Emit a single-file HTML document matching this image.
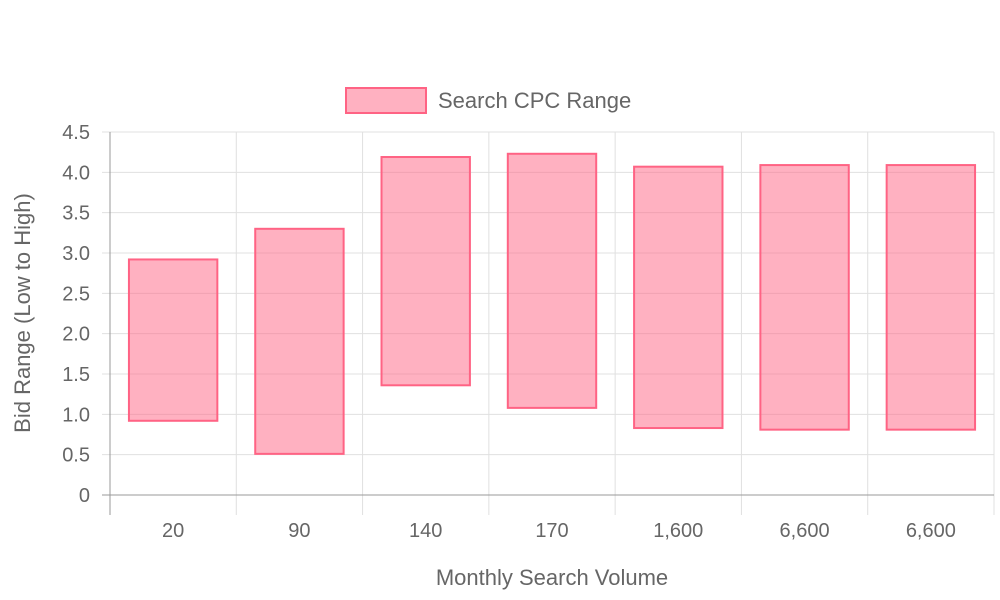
<!DOCTYPE html>
<html><head><meta charset="utf-8"><style>
body{margin:0;background:#fff}
svg{display:block;font-family:"Liberation Sans",sans-serif}
</style></head><body>
<svg id="chart" width="1000" height="600" viewBox="0 0 1000 600">
<g id="grid"></g>
<g id="bars"></g>
<g id="axes"></g>
<g>
<rect x="346" y="88" width="80" height="25" fill="rgba(255,99,132,0.5)" stroke="rgb(255,99,132)" stroke-width="2"/>
<text x="438" y="108" font-size="22" fill="#666">Search CPC Range</text>
</g>
<text x="552" y="585" font-size="22" fill="#666" text-anchor="middle">Monthly Search Volume</text>
<text transform="translate(30,313) rotate(-90)" font-size="22" fill="#666" text-anchor="middle">Bid Range (Low to High)</text>
</svg>
<script>
const categories=["20","90","140","170","1,600","6,600","6,600"];
const lows=[0.92,0.51,1.36,1.08,0.83,0.81,0.81];
const highs=[2.92,3.30,4.19,4.23,4.07,4.09,4.09];
const yTicks=[0,0.5,1,1.5,2,2.5,3,3.5,4,4.5];
const yTickLabels=["0","0.5","1.0","1.5","2.0","2.5","3.0","3.5","4.0","4.5"];
const NS="http://www.w3.org/2000/svg";
const L=110,R=994,T=132,B=495,yMax=4.5;
const bw=(R-L)/categories.length;
const y=v=>B-(v/yMax)*(B-T);
const x=i=>L+bw*i;
function mk(tag,attrs,parent){const e=document.createElementNS(NS,tag);for(const k in attrs)e.setAttribute(k,attrs[k]);parent.appendChild(e);return e;}
const grid=document.getElementById('grid'),bars=document.getElementById('bars'),axes=document.getElementById('axes');
yTicks.forEach((t,i)=>{
 const ln=mk('line',{x1:L-8,x2:R,y1:y(t),y2:y(t),stroke:t===0?'#999':'#e0e0e0','stroke-width':1},t===0?axes:grid);
 
 
 const tx=mk('text',{x:L-20,y:y(t)+7,'font-size':20,fill:'#666','text-anchor':'end'},axes);
 tx.textContent=yTickLabels[i];
 
 
});
for(let i=0;i<=categories.length;i++){
 const ln=mk('line',{x1:x(i),x2:x(i),y1:T,y2:B+20,stroke:i===0?'#999':'#e0e0e0','stroke-width':1},i===0?axes:grid);
 
 
}
categories.forEach((c,i)=>{
 const w=bw*0.7,bx=x(i)+(bw-w)/2;
 const r=mk('rect',{x:bx,y:y(highs[i]),width:w,height:y(lows[i])-y(highs[i]),fill:'rgba(255,99,132,0.5)',stroke:'rgb(255,99,132)','stroke-width':2},bars);
 
 
 const tx=mk('text',{x:x(i)+bw/2,y:537,'font-size':20,fill:'#666','text-anchor':'middle'},axes);
 tx.textContent=c;
 
 
});
</script>
</body></html>
